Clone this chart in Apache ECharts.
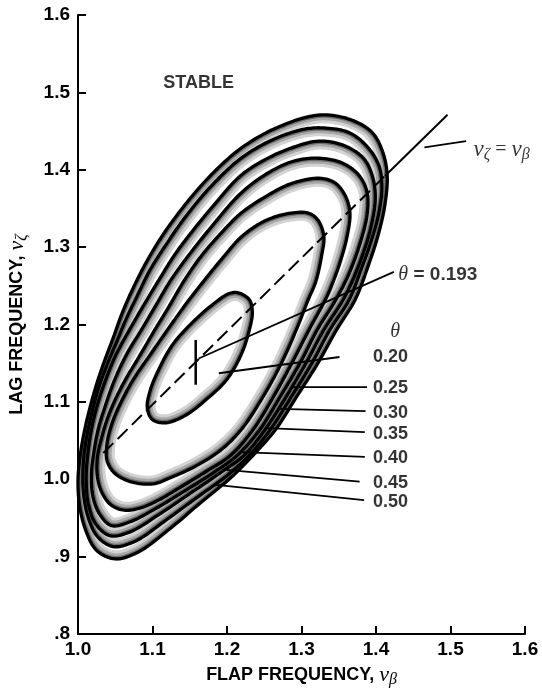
<!DOCTYPE html>
<html><head><meta charset="utf-8">
<script src="https://cdn.jsdelivr.net/npm/echarts@6/dist/echarts.min.js"></script>
<style>html,body{margin:0;padding:0;background:#fff}#c{width:542px;height:694px}</style>
</head><body><div id="c"></div>
<script>
// ---- tick labels ----
const xTickLabels = ['1.0','1.1','1.2','1.3','1.4','1.5','1.6'];
const yTickLabels = ['.8','.9','1.0','1.1','1.2','1.3','1.4','1.5','1.6'];
// ---- theta levels (contour labels) ----
const thetaLevels = ['0.20','0.25','0.30','0.35','0.40','0.45','0.50'];
// ---- stability boundaries (flap freq, lag freq) ----
const contour020 = [[1.215,1.241],[1.230,1.232],[1.234,1.216],[1.230,1.193],[1.219,1.161],[1.199,1.128],[1.172,1.103],[1.145,1.083],[1.118,1.073],[1.100,1.077],[1.093,1.092],[1.097,1.115],[1.108,1.141],[1.127,1.174],[1.154,1.203],[1.185,1.229],[1.203,1.240]];
const contour025 = [[1.309,1.344],[1.322,1.335],[1.330,1.314],[1.327,1.289],[1.319,1.255],[1.309,1.232],[1.293,1.193],[1.273,1.150],[1.248,1.106],[1.219,1.064],[1.192,1.038],[1.158,1.017],[1.124,1.002],[1.101,0.994],[1.070,0.997],[1.049,1.008],[1.039,1.024],[1.039,1.046],[1.046,1.073],[1.058,1.100],[1.075,1.130],[1.097,1.161],[1.120,1.193],[1.146,1.228],[1.172,1.260],[1.195,1.287],[1.219,1.313],[1.249,1.333],[1.280,1.343]];
const contour030 = [[1.324,1.389],[1.345,1.383],[1.359,1.366],[1.365,1.344],[1.361,1.313],[1.352,1.281],[1.342,1.254],[1.332,1.232],[1.310,1.193],[1.287,1.150],[1.262,1.106],[1.235,1.064],[1.205,1.031],[1.172,1.010],[1.138,0.990],[1.108,0.973],[1.084,0.963],[1.062,0.960],[1.044,0.967],[1.032,0.983],[1.026,1.004],[1.026,1.028],[1.031,1.051],[1.039,1.077],[1.050,1.103],[1.065,1.131],[1.083,1.160],[1.103,1.193],[1.122,1.223],[1.142,1.256],[1.165,1.288],[1.192,1.318],[1.219,1.344],[1.253,1.366],[1.286,1.382]];
const contour035 = [[1.320,1.415],[1.354,1.409],[1.377,1.393],[1.388,1.371],[1.388,1.342],[1.378,1.303],[1.363,1.264],[1.346,1.232],[1.321,1.193],[1.298,1.150],[1.271,1.106],[1.244,1.064],[1.214,1.031],[1.181,1.008],[1.145,0.986],[1.104,0.962],[1.070,0.945],[1.045,0.940],[1.029,0.955],[1.020,0.978],[1.018,1.006],[1.021,1.033],[1.027,1.064],[1.037,1.096],[1.049,1.128],[1.065,1.161],[1.085,1.193],[1.104,1.224],[1.125,1.258],[1.149,1.290],[1.178,1.325],[1.219,1.370],[1.257,1.397],[1.289,1.411]];
const contour040 = [[1.323,1.437],[1.358,1.431],[1.384,1.414],[1.396,1.389],[1.399,1.361],[1.393,1.325],[1.382,1.290],[1.369,1.258],[1.356,1.232],[1.330,1.193],[1.306,1.150],[1.279,1.106],[1.251,1.064],[1.223,1.031],[1.189,1.007],[1.151,0.982],[1.108,0.954],[1.070,0.932],[1.043,0.927],[1.024,0.942],[1.014,0.968],[1.011,0.999],[1.013,1.031],[1.018,1.064],[1.026,1.096],[1.037,1.128],[1.051,1.161],[1.069,1.193],[1.087,1.223],[1.107,1.255],[1.129,1.289],[1.153,1.320],[1.183,1.355],[1.219,1.393],[1.253,1.414],[1.286,1.428]];
const contour045 = [[1.330,1.454],[1.364,1.448],[1.389,1.429],[1.404,1.405],[1.408,1.378],[1.404,1.345],[1.394,1.309],[1.380,1.271],[1.364,1.232],[1.338,1.193],[1.314,1.150],[1.286,1.106],[1.258,1.064],[1.230,1.031],[1.199,1.004],[1.159,0.976],[1.115,0.945],[1.077,0.920],[1.047,0.913],[1.026,0.926],[1.013,0.953],[1.007,0.986],[1.007,1.019],[1.011,1.051],[1.018,1.083],[1.027,1.116],[1.039,1.148],[1.052,1.178],[1.065,1.208],[1.080,1.238],[1.097,1.271],[1.118,1.303],[1.141,1.335],[1.165,1.364],[1.192,1.392],[1.219,1.415],[1.249,1.433],[1.280,1.446],[1.307,1.453]];
const contour050 = [[1.331,1.471],[1.368,1.464],[1.395,1.448],[1.409,1.423],[1.415,1.393],[1.412,1.355],[1.403,1.316],[1.390,1.277],[1.372,1.232],[1.347,1.193],[1.322,1.150],[1.293,1.106],[1.265,1.064],[1.235,1.031],[1.205,1.002],[1.165,0.970],[1.122,0.935],[1.081,0.906],[1.050,0.897],[1.025,0.908],[1.010,0.935],[1.002,0.967],[1.000,0.999],[1.003,1.031],[1.009,1.064],[1.017,1.096],[1.026,1.126],[1.036,1.154],[1.047,1.182],[1.059,1.214],[1.074,1.247],[1.092,1.281],[1.112,1.313],[1.135,1.344],[1.163,1.377],[1.191,1.405],[1.219,1.428],[1.249,1.446],[1.276,1.458],[1.303,1.467]];
// ---- line nu_zeta = nu_beta (as drawn) ----
const equalLineInside = [[1.034,1.034],[1.412,1.392]];
const equalLineOutside = [[1.412,1.392],[1.496,1.471]];
// ---- minimum point theta = 0.193 ----
const minPointBar = [[1.158,1.180],[1.158,1.122]];
// ---- leader lines ----
const leader193 = [[1.162,1.156],[1.424,1.268]];
const leaderEq = [[1.465,1.429],[1.521,1.437]];
const levelLeaders = [
  [[1.189,1.137],[1.351,1.158]],
  [[1.286,1.119],[1.388,1.119]],
  [[1.270,1.091],[1.386,1.088]],
  [[1.253,1.066],[1.385,1.061]],
  [[1.219,1.035],[1.385,1.029]],
  [[1.199,1.012],[1.378,0.997]],
  [[1.182,0.993],[1.384,0.973]]
];
// ---- label anchors (left edge, vertical centre) ----
const levelLabelX = 1.396;
const levelLabelY = [1.158,1.118,1.086,1.059,1.028,0.995,0.971];
const thetaHeaderPos = [1.419,1.190];
const label193Pos = [1.430,1.264];
const labelEqPos = [1.531,1.426];
const stablePos = [1.162,1.512];

const SANS = '"Liberation Sans", Arial, Helvetica, sans-serif';
const SERIF = '"Liberation Serif", "DejaVu Serif", serif';

// centripetal Catmull-Rom smoothing of a closed pixel polygon
function densify(pts, n){
  const out=[]; const L=pts.length;
  const lerp=(a,b,ta,tb,t)=>{const w=(tb-ta)||1e-9; return [ (tb-t)/w*a[0]+(t-ta)/w*b[0], (tb-t)/w*a[1]+(t-ta)/w*b[1] ];};
  for(let i=0;i<L;i++){
    const p0=pts[(i-1+L)%L], p1=pts[i], p2=pts[(i+1)%L], p3=pts[(i+2)%L];
    const t0=0;
    const t1=t0+Math.pow(Math.hypot(p1[0]-p0[0],p1[1]-p0[1]),0.5)+1e-6;
    const t2=t1+Math.pow(Math.hypot(p2[0]-p1[0],p2[1]-p1[1]),0.5)+1e-6;
    const t3=t2+Math.pow(Math.hypot(p3[0]-p2[0],p3[1]-p2[1]),0.5)+1e-6;
    for(let k=0;k<n;k++){
      const t=t1+(t2-t1)*k/n;
      const A1=lerp(p0,p1,t0,t1,t), A2=lerp(p1,p2,t1,t2,t), A3=lerp(p2,p3,t2,t3,t);
      const B1=lerp(A1,A2,t0,t2,t), B2=lerp(A2,A3,t1,t3,t);
      out.push(lerp(B1,B2,t1,t2,t));
    }
  }
  return out;
}
function inset(pts, d){
  const L=pts.length; let A=0;
  for(let i=0;i<L;i++){const a=pts[i],b=pts[(i+1)%L]; A+=a[0]*b[1]-b[0]*a[1];}
  const s=A>0?1:-1;
  return pts.map((p,i)=>{
    const a=pts[(i-2+L)%L], b=pts[(i+2)%L];
    let tx=b[0]-a[0], ty=b[1]-a[1]; const l=Math.hypot(tx,ty)||1; tx/=l; ty/=l;
    return [p[0]-ty*s*d, p[1]+tx*s*d];
  });
}

const contoursOuterFirst = [contour050, contour045, contour040, contour035, contour030, contour025, contour020];

const chart = echarts.init(document.getElementById('c'), null, {renderer:'canvas', width:542, height:694});

function lineSeries(data, width, type){
  return {type:'line', data:data, showSymbol:false, symbol:'none', silent:true, z:5, animation:false,
    lineStyle:{color:'#000', width:width, type:type||'solid', cap:'butt'}};
}

const series = [];
series.push({
  type:'custom', coordinateSystem:'cartesian2d', clip:false, silent:true, z:1,
  data: contoursOuterFirst.map(c=>c[0]),
  renderItem:(params, api)=>{
    const pts = densify(contoursOuterFirst[params.dataIndex].map(p=>api.coord(p)), 10);
    return {type:'group', children:[
      {type:'polygon', shape:{points:pts}, style:{fill:'#6e6e6e'}},
      {type:'polygon', shape:{points:inset(pts,3)}, style:{fill:'#a9a9a9'}},
      {type:'polygon', shape:{points:inset(pts,5.5)}, style:{fill:'#d3d3d3'}},
      {type:'polygon', shape:{points:inset(pts,8.5)}, style:{fill:'#ffffff'}}
    ]};
  }
});
series.push(lineSeries(equalLineInside, 2, [14,6]));
series.push(lineSeries(equalLineOutside, 2));
series.push({
  type:'custom', coordinateSystem:'cartesian2d', clip:false, silent:true, z:4,
  data: contoursOuterFirst.map(c=>c[0]),
  renderItem:(params, api)=>{
    const pts = densify(contoursOuterFirst[params.dataIndex].map(p=>api.coord(p)), 10);
    return {type:'polygon', shape:{points:pts}, style:{fill:'none', stroke:'#000', lineWidth:3.3, lineJoin:'round'}};
  }
});
series.push(lineSeries(minPointBar, 2.5));
series.push(lineSeries(leader193, 1.8));
series.push(lineSeries(leaderEq, 1.8));
levelLeaders.forEach(l=>series.push(lineSeries(l, 1.8)));

const boldLabel = {fontFamily:SANS, fontWeight:'bold', fontSize:18, color:'#000'};
const labelData = [];
thetaLevels.forEach((t,i)=>labelData.push({value:[levelLabelX, levelLabelY[i]], label:{formatter:t}}));
labelData.push({value:thetaHeaderPos, label:{formatter:'{g|θ}'}});
labelData.push({value:label193Pos, label:{formatter:'{g|θ}{b| = 0.193}'}});
labelData.push({value:labelEqPos, label:{formatter:'{n|ν}{s|ζ}{e| = }{n|ν}{s|β}'}});
labelData.push({value:stablePos, label:{formatter:'STABLE', position:'inside', align:'center'}});
series.push({
  type:'scatter', symbolSize:0, silent:true, z:10, data:labelData,
  label:{show:true, position:'right', distance:0, ...boldLabel,
    rich:{
      g:{fontFamily:SERIF, fontStyle:'italic', fontWeight:'normal', fontSize:20, color:'#000', lineHeight:24},
      b:{fontFamily:SANS, fontWeight:'bold', fontSize:19, color:'#000', lineHeight:24},
      n:{fontFamily:SERIF, fontStyle:'italic', fontWeight:'normal', fontSize:23, color:'#000', lineHeight:26},
      s:{fontFamily:SERIF, fontStyle:'italic', fontWeight:'normal', fontSize:16, color:'#000', lineHeight:15, verticalAlign:'bottom'},
      e:{fontFamily:SERIF, fontWeight:'normal', fontSize:20, color:'#000', lineHeight:26}
    }}
});

const nameRich = {
  t:{fontFamily:SANS, fontWeight:'bold', fontSize:18, color:'#000', lineHeight:26},
  n:{fontFamily:SERIF, fontStyle:'italic', fontWeight:'normal', fontSize:22, color:'#000', lineHeight:26},
  s:{fontFamily:SERIF, fontStyle:'italic', fontWeight:'normal', fontSize:16, color:'#000', lineHeight:15, verticalAlign:'bottom'}
};
const tickLabel = {fontFamily:SANS, fontWeight:'bold', fontSize:19, color:'#000'};

chart.setOption({
  animation:false,
  backgroundColor:'#fff',
  grid:{left:78, right:17, top:15, bottom:60, containLabel:false, outerBoundsMode:'none'},
  xAxis:{type:'value', min:1.0, max:1.6, interval:0.1,
    axisLine:{show:true, onZero:false, lineStyle:{color:'#000', width:2}},
    axisTick:{show:true, inside:true, length:8, lineStyle:{color:'#000', width:2}},
    splitLine:{show:false},
    axisLabel:{show:true, showMinLabel:true, showMaxLabel:true, margin:6, ...tickLabel,
      formatter:v=>xTickLabels[Math.round((v-1.0)*10)] || ''},
    name:'{t|FLAP FREQUENCY, }{n|ν}{s|β}', nameLocation:'middle', nameGap:28,
    nameTextStyle:{rich:nameRich}
  },
  yAxis:{type:'value', min:0.8, max:1.6, interval:0.1,
    axisLine:{show:true, onZero:false, lineStyle:{color:'#000', width:2}},
    axisTick:{show:true, inside:true, length:8, lineStyle:{color:'#000', width:2}},
    splitLine:{show:false},
    axisLabel:{show:true, showMinLabel:true, showMaxLabel:true, margin:8, ...tickLabel,
      formatter:v=>yTickLabels[Math.round((v-0.8)*10)] || ''},
    name:'{t|LAG FREQUENCY, }{n|ν}{s|ζ}', nameLocation:'middle', nameGap:48, nameRotate:90,
    nameTextStyle:{rich:nameRich}
  },
  series:series
});
</script></body></html>
